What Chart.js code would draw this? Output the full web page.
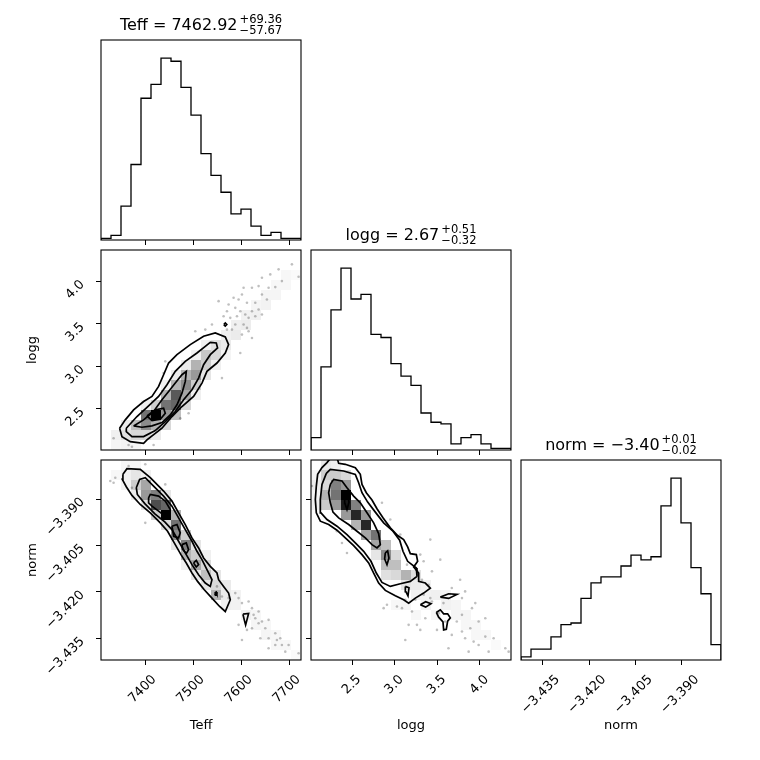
<!DOCTYPE html>
<html><head><meta charset="utf-8">
<script src="https://cdn.jsdelivr.net/npm/chart.js@4.4.1/dist/chart.umd.min.js"></script>
<style>
html,body{margin:0;padding:0;background:#fff;width:760px;height:760px;overflow:hidden}
#wrap{position:relative;width:760px;height:760px;background:#fff}
#wrap canvas{position:absolute}
</style></head><body><div id="wrap"></div>
<script>
// ---------- data ----------
const teffEdges = [7307.9,7328.7,7349.5,7370.3,7391.1,7411.9,7432.7,7453.5,7474.3,7495.1,7515.9,7536.7,7557.5,7578.3,7599.1,7619.9,7640.7,7661.5,7682.3,7703.1,7723.9];
const loggEdges = [2.018,2.1356,2.2531,2.3707,2.4882,2.6058,2.7233,2.8409,2.9584,3.0760,3.1935,3.3111,3.4286,3.5462,3.6637,3.7813,3.8988,4.0164,4.1339,4.2515,4.369];
const normEdges = [-3.44197,-3.43874,-3.43551,-3.43229,-3.42906,-3.42583,-3.42260,-3.41937,-3.41615,-3.41292,-3.40969,-3.40646,-3.40323,-3.40001,-3.39678,-3.39355,-3.39032,-3.38709,-3.38387,-3.38064,-3.37741];

const teffCounts = [1,3,22,49,92,101,118,116,99,81,56,42,31,17,20,9,3,5,1,1];
const loggCounts = [8,54,91,118,98,101,75,73,56,48,42,24,18,17,4,8,10,4,1,1];
const normCounts = [2,7,7,15,23,24,40,50,54,54,61,68,65,67,100,118,89,60,43,10];

const teffTicks = [7400,7500,7600,7700];
const teffTickLabels = ['7400','7500','7600','7700'];
const loggTicks = [2.5,3.0,3.5,4.0];
const loggTickLabels = ['2.5','3.0','3.5','4.0'];
const normTicks = [-3.435,-3.420,-3.405,-3.390];
const normTickLabels = ['\u22123.435','\u22123.420','\u22123.405','\u22123.390'];

const paramNames = ['Teff','logg','norm'];
const titleMain = ['Teff = 7462.92','logg = 2.67','norm = \u22123.40'];
const titleSup = ['+69.36','+0.51','+0.01'];
const titleSub = ['\u221257.67','\u22120.32','\u22120.02'];

// 2D histogram cells: [x bin, y bin, darkness]
const teffLoggCells = [[5,3,1.0],[4,3,0.55],[6,3,0.4],[4,2,0.45],[5,2,0.3],[3,2,0.25],[3,1,0.15],[2,1,0.12],[6,4,0.55],[7,4,0.6],[7,5,0.65],[6,5,0.3],[8,5,0.35],[8,6,0.45],[7,6,0.3],[8,7,0.3],[9,7,0.4],[9,6,0.2],[9,8,0.3],[10,8,0.2],[10,9,0.22],[11,9,0.15],[11,10,0.12],[12,10,0.08],[12,11,0.06],[13,11,0.08],[13,12,0.06],[14,12,0.07],[14,13,0.05],[15,13,0.06],[15,14,0.04],[16,14,0.05],[16,15,0.04],[17,15,0.04],[17,16,0.03],[18,16,0.03],[18,17,0.03],[19,17,0.02],[2,2,0.08],[1,1,0.06],[1,0,0.04],[2,0,0.05],[3,0,0.04],[4,1,0.15],[5,1,0.08],[6,2,0.15],[7,3,0.25],[8,4,0.15],[5,4,0.2],[6,6,0.06],[7,7,0.08],[8,8,0.08],[9,9,0.06],[10,7,0.1],[10,10,0.06],[11,8,0.06],[12,9,0.04],[9,5,0.06],[4,4,0.06]];
const teffNormCells = [[3,18,0.1],[4,17,0.35],[3,17,0.2],[5,16,0.5],[6,14,1.0],[5,15,0.7],[4,16,0.4],[6,15,0.6],[7,13,0.55],[7,12,0.45],[8,11,0.5],[8,10,0.3],[9,9,0.35],[9,10,0.2],[10,8,0.25],[10,7,0.1],[11,6,0.3],[11,7,0.15],[12,6,0.08],[12,5,0.06],[13,5,0.05],[14,4,0.06],[15,3,0.04],[16,2,0.04],[17,1,0.03],[18,1,0.03],[19,0,0.02],[15,4,0.03],[16,3,0.03],[17,2,0.03],[2,18,0.06],[1,18,0.03],[2,17,0.05],[3,16,0.08],[4,15,0.12],[5,14,0.2],[6,13,0.15],[6,16,0.1],[7,14,0.3],[7,11,0.1],[8,12,0.2],[8,9,0.06],[9,11,0.1],[9,8,0.1],[10,9,0.15],[10,10,0.06],[11,8,0.1],[12,7,0.08],[13,6,0.05],[4,18,0.06],[3,19,0.03],[2,19,0.03]];
const loggNormCells = [[3,16,1.0],[3,15,0.9],[2,17,0.5],[2,16,0.55],[2,15,0.4],[3,17,0.4],[1,16,0.3],[1,17,0.15],[1,15,0.2],[2,18,0.2],[3,18,0.15],[0,15,0.06],[0,16,0.04],[4,14,0.85],[4,15,0.5],[5,13,0.85],[5,14,0.4],[4,13,0.3],[3,14,0.4],[6,12,0.55],[6,11,0.35],[5,12,0.35],[7,10,0.45],[7,11,0.25],[8,9,0.25],[9,8,0.3],[10,8,0.12],[8,8,0.15],[7,8,0.12],[7,9,0.25],[8,10,0.15],[6,10,0.1],[9,7,0.1],[10,7,0.08],[11,7,0.06],[11,6,0.05],[12,6,0.06],[13,6,0.05],[13,5,0.05],[14,5,0.04],[15,4,0.04],[16,3,0.03],[14,4,0.04],[15,3,0.03],[17,2,0.03],[16,2,0.03],[10,4,0.03],[9,5,0.04],[8,5,0.03],[12,4,0.04],[11,5,0.05],[18,1,0.02],[10,6,0.05],[1,19,0.08],[2,19,0.06],[0,18,0.05],[1,18,0.2],[0,17,0.08]];

// sample points outside the contours
const teffLoggPoints = [[7677.3,4.1413],[7718.9,4.0548],[7660.0,4.0823],[7670.4,3.9329],[7642.7,4.0430],[7635.7,3.9447],[7621.9,3.9250],[7604.5,3.9250],[7601.1,3.8464],[7594.1,3.7874],[7583.7,3.8071],[7573.3,3.7284],[7569.9,3.6498],[7576.8,3.5712],[7587.2,3.6891],[7597.6,3.6498],[7608.0,3.6105],[7614.9,3.5712],[7621.9,3.6498],[7628.8,3.5908],[7635.7,3.6695],[7604.5,3.4925],[7611.5,3.4532],[7614.9,3.4139],[7601.1,3.3746],[7587.2,3.4925],[7562.9,3.5908],[7552.5,3.7678],[7538.7,3.4925],[7524.8,3.4335],[7597.6,3.1583],[7559.5,2.8634],[7504.0,3.4139],[7441.6,3.0600],[7438.1,2.9224],[7417.3,2.0770],[7365.3,2.0770],[7334.1,2.1556],[7372.3,2.0570],[7490.1,2.4505],[7472.8,2.3916],[7621.9,3.3353],[7642.7,3.8464],[7656.5,3.9250],[7684.2,4.0037],[7705.0,4.2003],[7653.0,3.7874],[7628.8,3.7481],[7611.5,3.7481],[7590.7,3.5908],[7642.7,3.6105],[7569.9,3.4335],[7580.3,3.4335]];
const teffNormPoints = [[7327.2,-3.38420],[7334.1,-3.38474],[7337.6,-3.38312],[7365.3,-3.37934],[7400.0,-3.37880],[7372.3,-3.38636],[7400.0,-3.39770],[7441.6,-3.38528],[7587.2,-3.42037],[7594.1,-3.42199],[7601.1,-3.42361],[7614.9,-3.42307],[7621.9,-3.42523],[7635.7,-3.42631],[7628.8,-3.42847],[7642.7,-3.42955],[7656.5,-3.42901],[7649.6,-3.43171],[7670.4,-3.43333],[7673.8,-3.43549],[7684.2,-3.43711],[7670.4,-3.43711],[7656.5,-3.43819],[7691.2,-3.43927],[7718.9,-3.43981],[7621.9,-3.43171],[7611.5,-3.43225],[7594.1,-3.43063],[7601.1,-3.43549],[7639.2,-3.43495],[7656.5,-3.43495],[7680.8,-3.43495],[7573.3,-3.42199],[7549.1,-3.41821],[7559.5,-3.42145],[7625.3,-3.42739],[7635.7,-3.43009],[7698.1,-3.43711]];
const loggNormPoints = [[2.0294,-3.38582],[2.3232,-3.40040],[2.3820,-3.40418],[2.4408,-3.40741],[2.8522,-3.39122],[2.9502,-3.39662],[3.0677,-3.40148],[3.1461,-3.41119],[3.3028,-3.40795],[3.4204,-3.40310],[3.5379,-3.40957],[3.3420,-3.41011],[3.3224,-3.41605],[3.4008,-3.41767],[3.4400,-3.41335],[3.6731,-3.41875],[3.7710,-3.41605],[3.8298,-3.41983],[3.7926,-3.42199],[3.9102,-3.42523],[3.9493,-3.42361],[3.9885,-3.42955],[4.0669,-3.42847],[3.8906,-3.43171],[3.9297,-3.43603],[3.9885,-3.43711],[4.0669,-3.43441],[4.1648,-3.43495],[3.7926,-3.42739],[3.7318,-3.42955],[3.6731,-3.43387],[3.6339,-3.43819],[3.1265,-3.43549],[3.2636,-3.43063],[3.2049,-3.42631],[3.0873,-3.42523],[3.0285,-3.42469],[2.9110,-3.42415],[2.8718,-3.42523],[3.3616,-3.42847],[3.3028,-3.43225],[3.4987,-3.43225],[3.5947,-3.42955],[3.5751,-3.42361],[3.4400,-3.42307],[3.7926,-3.43279],[4.1061,-3.43927],[4.3020,-3.43819],[4.3412,-3.43927],[3.8710,-3.43927],[3.8298,-3.43495],[3.5183,-3.42685],[3.1657,-3.43063],[3.3420,-3.42091],[3.4204,-3.42199],[3.2440,-3.42253],[3.1265,-3.42253]];

// density contours (data units)
const teffLoggContours = [
 [[7346.6,2.2737],[7351.5,2.1754],[7368.8,2.1164],[7396.5,2.0968],[7403.5,2.1361],[7434.7,2.2737],[7455.5,2.4113],[7476.3,2.5293],[7500.5,2.6472],[7517.9,2.8045],[7528.3,2.9421],[7549.1,3.0404],[7566.4,3.1584],[7573.3,3.2567],[7566.4,3.3471],[7545.6,3.3943],[7521.3,3.3550],[7493.6,3.2567],[7465.9,3.1387],[7448.5,3.0404],[7438.1,2.9028],[7427.7,2.7652],[7413.9,2.6472],[7396.5,2.5882],[7375.7,2.4899],[7358.4,2.3720],[7346.6,2.2737]],
 [[7360.5,2.2737],[7382.7,2.4113],[7406.9,2.5371],[7427.7,2.6472],[7445.1,2.7849],[7462.4,2.9421],[7483.2,3.0601],[7507.5,3.1584],[7524.8,3.2370],[7535.2,3.2842],[7547.7,3.2764],[7550.4,3.2174],[7535.2,3.1387],[7521.3,3.0207],[7510.9,2.8635],[7497.1,2.7259],[7479.7,2.6079],[7462.4,2.4703],[7441.6,2.3523],[7420.8,2.2462],[7396.5,2.1754],[7372.3,2.1754],[7360.5,2.2344],[7360.5,2.2737]],
 [[7375.7,2.3012],[7396.5,2.3720],[7417.3,2.4703],[7434.7,2.6079],[7448.5,2.7062],[7462.4,2.8045],[7476.3,2.9028],[7485.3,2.9421],[7483.2,2.8242],[7476.3,2.6865],[7465.9,2.5489],[7452.0,2.4310],[7434.7,2.3405],[7413.9,2.3012],[7393.1,2.2855],[7375.7,2.3012]],
 [[7403.5,2.4192],[7420.8,2.4899],[7438.1,2.5096],[7441.6,2.4506],[7431.2,2.3798],[7413.9,2.3641],[7403.5,2.4192]],
 [[7563.3,3.4925],[7566.4,3.4745],[7569.5,3.4925],[7566.4,3.5105],[7563.3,3.4925]]
];
const teffNormContours = [
 [[7353.5,-3.38204],[7361.9,-3.38020],[7389.6,-3.38042],[7410.4,-3.38312],[7438.1,-3.38744],[7455.5,-3.39068],[7469.3,-3.39446],[7483.2,-3.39824],[7497.1,-3.40256],[7510.9,-3.40580],[7521.3,-3.40903],[7535.2,-3.41173],[7549.1,-3.41389],[7552.5,-3.41605],[7562.9,-3.41821],[7573.3,-3.42037],[7576.8,-3.42253],[7566.4,-3.42631],[7554.6,-3.42469],[7538.7,-3.42199],[7522.7,-3.41929],[7508.8,-3.41659],[7497.1,-3.41389],[7485.3,-3.41065],[7474.2,-3.40795],[7460.3,-3.40418],[7446.4,-3.40040],[7431.2,-3.39770],[7410.4,-3.39446],[7389.6,-3.39176],[7372.3,-3.38884],[7360.5,-3.38603],[7352.2,-3.38366],[7353.5,-3.38204]],
 [[7381.3,-3.38636],[7388.2,-3.38366],[7400.0,-3.38312],[7417.3,-3.38582],[7438.1,-3.38906],[7455.5,-3.39230],[7469.3,-3.39608],[7483.2,-3.39986],[7497.1,-3.40364],[7507.5,-3.40688],[7517.9,-3.40957],[7528.3,-3.41281],[7538.7,-3.41605],[7535.2,-3.41821],[7524.8,-3.41713],[7510.9,-3.41443],[7497.1,-3.41119],[7483.2,-3.40741],[7469.3,-3.40364],[7455.5,-3.39986],[7440.5,-3.39740],[7420.0,-3.39480],[7399.0,-3.39150],[7383.5,-3.38852],[7381.3,-3.38636]],
 [[7406.9,-3.38960],[7410.4,-3.38852],[7427.7,-3.38906],[7441.6,-3.39068],[7452.0,-3.39338],[7450.6,-3.39608],[7441.6,-3.39554],[7427.7,-3.39392],[7413.9,-3.39230],[7406.9,-3.39122],[7406.9,-3.38960]],
 [[7455.5,-3.39878],[7465.9,-3.39824],[7472.8,-3.40094],[7469.3,-3.40256],[7459.0,-3.40202],[7455.5,-3.39878]],
 [[7476.3,-3.40472],[7485.3,-3.40418],[7490.1,-3.40634],[7485.3,-3.40763],[7478.3,-3.40634],[7476.3,-3.40472]],
 [[7500.5,-3.41065],[7506.1,-3.40979],[7510.9,-3.41119],[7506.1,-3.41195],[7500.5,-3.41065]],
 [[7544.2,-3.42037],[7547.7,-3.42005],[7549.1,-3.42059],[7545.6,-3.42091],[7544.2,-3.42037]],
 [[7603.1,-3.42718],[7614.9,-3.42696],[7611.5,-3.42901],[7608.7,-3.43063],[7605.9,-3.42901],[7603.1,-3.42718]]
];
const loggNormContours = [
 [[2.2529,-3.37664],[2.2059,-3.37826],[2.1471,-3.37988],[2.0962,-3.38204],[2.0805,-3.38582],[2.0688,-3.39014],[2.0805,-3.39446],[2.1276,-3.39716],[2.2255,-3.39824],[2.3235,-3.40007],[2.4214,-3.40256],[2.5194,-3.40504],[2.6173,-3.40795],[2.6957,-3.41065],[2.7545,-3.41389],[2.8132,-3.41713],[2.8916,-3.41951],[3.0092,-3.42124],[3.1071,-3.42253],[3.1659,-3.42361],[3.2443,-3.42199],[3.3422,-3.42037],[3.4206,-3.41875],[3.3618,-3.41713],[3.2835,-3.41659],[3.2835,-3.41389],[3.2247,-3.41195],[3.2717,-3.41011],[3.2561,-3.40795],[3.1855,-3.40763],[3.1541,-3.40547],[3.1071,-3.40310],[3.0366,-3.40180],[2.9504,-3.39932],[2.8642,-3.39608],[2.7937,-3.39316],[2.7349,-3.39035],[2.6683,-3.38798],[2.6173,-3.38528],[2.5977,-3.38204],[2.5390,-3.37988],[2.4214,-3.37880],[2.3431,-3.37848],[2.3235,-3.37664]],
 [[2.1981,-3.38172],[2.2451,-3.38042],[2.4018,-3.38096],[2.5390,-3.38204],[2.5781,-3.38474],[2.6173,-3.38798],[2.6840,-3.39100],[2.7741,-3.39424],[2.8720,-3.39770],[2.9817,-3.40040],[3.0601,-3.40331],[3.0993,-3.40688],[3.1541,-3.41011],[3.2559,-3.41227],[3.2639,-3.41497],[3.1855,-3.41659],[3.0679,-3.41735],[2.9504,-3.41821],[2.8524,-3.41692],[2.7858,-3.41389],[2.7231,-3.41011],[2.6369,-3.40688],[2.5390,-3.40418],[2.4410,-3.40148],[2.3235,-3.39878],[2.2059,-3.39662],[2.1354,-3.39446],[2.1276,-3.39014],[2.1471,-3.38528],[2.1981,-3.38172]],
 [[2.2451,-3.38528],[2.2843,-3.38366],[2.3822,-3.38420],[2.4410,-3.38636],[2.5194,-3.38906],[2.5977,-3.39122],[2.6761,-3.39446],[2.7545,-3.39770],[2.8132,-3.40115],[2.8328,-3.40472],[2.7937,-3.40580],[2.7349,-3.40472],[2.6565,-3.40256],[2.5586,-3.40040],[2.4606,-3.39824],[2.3431,-3.39608],[2.2764,-3.39424],[2.2451,-3.39122],[2.2255,-3.38798],[2.2451,-3.38528]],
 [[2.4136,-3.38906],[2.4489,-3.38852],[2.4645,-3.39100],[2.4410,-3.39338],[2.4175,-3.39143],[2.4136,-3.38906]],
 [[2.8916,-3.40742],[2.9190,-3.40677],[2.9347,-3.40904],[2.9112,-3.41119],[2.8838,-3.40936],[2.8916,-3.40742]],
 [[3.1267,-3.41821],[3.1698,-3.41865],[3.1581,-3.42124],[3.1346,-3.41994],[3.1267,-3.41821]],
 [[3.3030,-3.42415],[3.3657,-3.42318],[3.4284,-3.42383],[3.3657,-3.42491],[3.3030,-3.42415]],
 [[3.5381,-3.42167],[3.6361,-3.42059],[3.7341,-3.42080],[3.6361,-3.42210],[3.5381,-3.42167]],
 [[3.4911,-3.42663],[3.5381,-3.42577],[3.5773,-3.42707],[3.6243,-3.42707],[3.6557,-3.42836],[3.6243,-3.42944],[3.6086,-3.43203],[3.5773,-3.43225],[3.5694,-3.42966],[3.5185,-3.42815],[3.4911,-3.42663]]
];

// ---------- helpers ----------
Chart.defaults.font.family = "'DejaVu Sans', sans-serif";
Chart.defaults.color = '#000';
const FONT = "'DejaVu Sans', sans-serif";
const wrap = document.getElementById('wrap');

const axes = {
  Teff: {edges: teffEdges, ticks: teffTicks, labels: teffTickLabels, labelOffset: 9},
  logg: {edges: loggEdges, ticks: loggTicks, labels: loggTickLabels, labelOffset: 7},
  norm: {edges: normEdges, ticks: normTicks, labels: normTickLabels, labelOffset: 15}
};

const framePlugin = {
  id: 'frame',
  afterDatasetsDraw(chart) {
    const {ctx, chartArea: a} = chart;
    ctx.save();
    ctx.strokeStyle = '#000'; ctx.lineWidth = 1.1;
    ctx.strokeRect(a.left, a.top, a.right - a.left, a.bottom - a.top);
    ctx.restore();
  }
};
const titlePlugin = {
  id: 'cornerTitle',
  afterDraw(chart, args, o) {
    if (!o || !o.main) return;
    const {ctx, chartArea: a} = chart;
    ctx.save();
    ctx.fillStyle = '#000'; ctx.textAlign = 'left'; ctx.textBaseline = 'alphabetic';
    ctx.font = '16px ' + FONT;
    const w1 = ctx.measureText(o.main).width;
    ctx.font = '11.5px ' + FONT;
    const ws = Math.max(ctx.measureText(o.sup).width, ctx.measureText(o.sub).width);
    const total = w1 + 2 + ws;
    const x0 = (a.left + a.right) / 2 - total / 2;
    const base = a.top - 10;
    ctx.font = '16px ' + FONT;
    ctx.fillText(o.main, x0, base);
    ctx.font = '11.5px ' + FONT;
    ctx.fillText(o.sup, x0 + w1 + 2, base - 7);
    ctx.fillText(o.sub, x0 + w1 + 2, base + 4);
    ctx.restore();
  }
};
const yLabelPlugin = {
  id: 'yLabels',
  afterDraw(chart, args, o) {
    if (!o || !o.labels) return;
    const s = chart.scales.y, a = chart.chartArea, ctx = chart.ctx;
    ctx.save();
    ctx.fillStyle = '#000'; ctx.font = '13px ' + FONT;
    ctx.textAlign = 'right'; ctx.textBaseline = 'middle';
    o.ticks.forEach((v, i) => {
      const py = s.getPixelForValue(v);
      ctx.save();
      ctx.translate(a.left - 18.5, py + 1);
      ctx.rotate(-Math.PI / 4);
      ctx.fillText(o.labels[i], 0, 0);
      ctx.restore();
    });
    ctx.restore();
  }
};

function gridOpts(show) {
  return {display: show, drawOnChartArea: false, drawTicks: true, tickLength: 5, tickWidth: 1, tickColor: '#000', color: '#000'};
}
function center(edges, i) { return (edges[i] + edges[i + 1]) / 2; }
function grayOf(d) { const g = Math.round(255 * (1 - d)); return 'rgb(' + g + ',' + g + ',' + g + ')'; }

function makeChart(o) {
  const cv = document.createElement('canvas');
  cv.width = 320; cv.height = 340;
  cv.style.left = o.left + 'px'; cv.style.top = o.top + 'px';
  cv.style.width = '320px'; cv.style.height = '340px';
  wrap.appendChild(cv);
  const X = axes[o.x];
  const xs = {
    type: 'linear', position: 'bottom', min: X.edges[0], max: X.edges[20],
    afterBuildTicks: s => { s.ticks = X.ticks.map(v => ({value: v})); },
    afterFit: s => { s.height = 100; },
    grid: gridOpts(true), border: {display: false},
    ticks: {display: !!o.xLabels, autoSkip: false, minRotation: 45, maxRotation: 45, labelOffset: X.labelOffset, padding: 7, color: '#000', font: {size: 13}, callback: (v, i) => X.labels[i]},
    title: {display: !!o.xLabels, text: o.x, color: '#000', font: {size: 13, lineHeight: 1}, padding: {top: 0, bottom: 27.5}}
  };
  let ys;
  if (o.y) {
    const Y = axes[o.y];
    ys = {
      type: 'linear', position: 'left', min: Y.edges[0], max: Y.edges[20],
      afterBuildTicks: s => { s.ticks = Y.ticks.map(v => ({value: v})); },
      afterFit: s => { s.width = 100; },
      grid: gridOpts(true), border: {display: false},
      ticks: {display: false},
      title: {display: !!o.yLabels, text: o.y, color: '#000', font: {size: 13, lineHeight: 1}, padding: {top: 25, bottom: 0}}
    };
  } else {
    ys = {
      type: 'linear', position: 'left', min: 0, max: o.yMax,
      afterFit: s => { s.width = 100; },
      grid: {display: false}, border: {display: false}, ticks: {display: false}
    };
  }
  new Chart(cv, {
    type: 'scatter',
    data: {datasets: o.datasets},
    options: {
      responsive: false, animation: false, events: [],
      layout: {padding: {left: 0, top: 40, right: 20, bottom: 0}},
      scales: {x: xs, y: ys},
      plugins: {
        legend: {display: false}, tooltip: {enabled: false},
        cornerTitle: o.title || false,
        yLabels: (o.y && o.yLabels) ? {ticks: axes[o.y].ticks, labels: axes[o.y].labels} : false
      }
    },
    plugins: [framePlugin, titlePlugin, yLabelPlugin]
  });
}

function histDatasets(edges, counts) {
  const pts = [{x: edges[0], y: 0}];
  counts.forEach((c, i) => pts.push({x: edges[i], y: c}));
  pts.push({x: edges[20], y: counts[counts.length - 1]});
  pts.push({x: edges[20], y: 0});
  return [{data: pts, showLine: true, stepped: 'before', borderColor: '#000', borderWidth: 1.3, pointRadius: 0, fill: false}];
}
function panelDatasets(xName, yName, cells, points, contours) {
  const xe = axes[xName].edges, ye = axes[yName].edges;
  const ds = [];
  contours.forEach(c => ds.push({data: c.map(p => ({x: p[0], y: p[1]})), showLine: true, borderColor: '#000', borderWidth: 1.7, pointRadius: 0, fill: false, tension: 0, order: 1}));
  ds.push({data: points.map(p => ({x: p[0], y: p[1]})), pointRadius: 1.3, pointBorderWidth: 0, pointBackgroundColor: 'rgba(0,0,0,0.25)', order: 2});
  ds.push({data: cells.map(c => ({x: center(xe, c[0]), y: center(ye, c[1])})), pointStyle: 'rect', pointRadius: 7.1, pointBorderWidth: 0, borderWidth: 0, pointBackgroundColor: cells.map(c => grayOf(c[2])), order: 3});
  return ds;
}
function hmax(counts) { return Math.max.apply(null, counts) * 1.1; }

const colLeft = [1, 211, 421];
const rowTop = [0, 210, 420];

// diagonal histograms
makeChart({left: colLeft[0], top: rowTop[0], x: 'Teff', yMax: hmax(teffCounts), datasets: histDatasets(teffEdges, teffCounts),
  title: {main: titleMain[0], sup: titleSup[0], sub: titleSub[0]}});
makeChart({left: colLeft[1], top: rowTop[1], x: 'logg', yMax: hmax(loggCounts), datasets: histDatasets(loggEdges, loggCounts),
  title: {main: titleMain[1], sup: titleSup[1], sub: titleSub[1]}});
makeChart({left: colLeft[2], top: rowTop[2], x: 'norm', xLabels: true, yMax: hmax(normCounts), datasets: histDatasets(normEdges, normCounts),
  title: {main: titleMain[2], sup: titleSup[2], sub: titleSub[2]}});
// 2D panels
makeChart({left: colLeft[0], top: rowTop[1], x: 'Teff', y: 'logg', yLabels: true,
  datasets: panelDatasets('Teff', 'logg', teffLoggCells, teffLoggPoints, teffLoggContours)});
makeChart({left: colLeft[0], top: rowTop[2], x: 'Teff', y: 'norm', xLabels: true, yLabels: true,
  datasets: panelDatasets('Teff', 'norm', teffNormCells, teffNormPoints, teffNormContours)});
makeChart({left: colLeft[1], top: rowTop[2], x: 'logg', y: 'norm', xLabels: true,
  datasets: panelDatasets('logg', 'norm', loggNormCells, loggNormPoints, loggNormContours)});
</script></body></html>
